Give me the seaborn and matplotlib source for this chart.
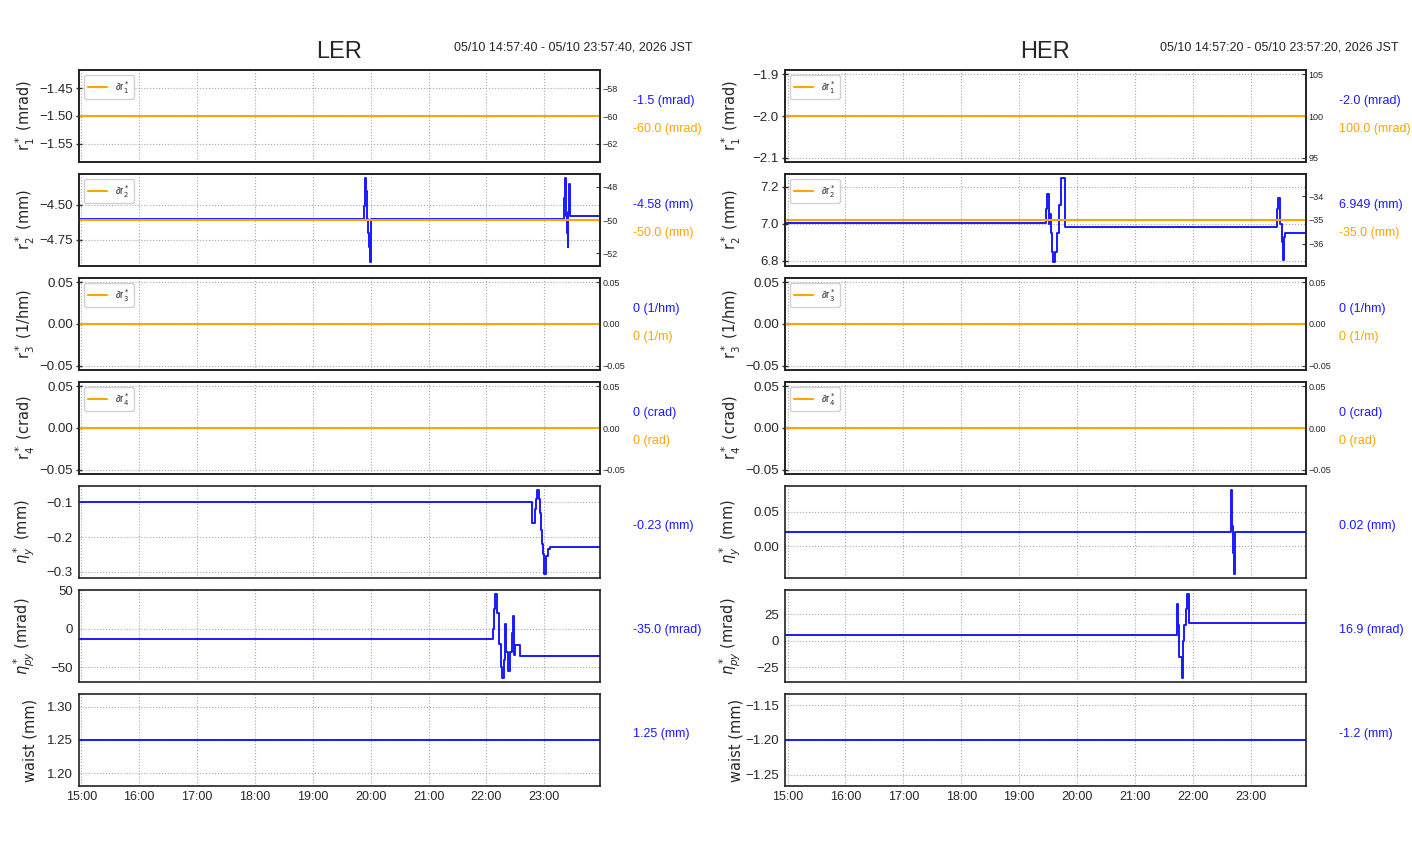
import pandas as pd
import matplotlib
matplotlib.use('Agg')
import matplotlib.pyplot as plt
import matplotlib.dates as mdates
from matplotlib.ticker import MaxNLocator
import seaborn as sns

DAY = '2026-05-10 '

# ---------------- LER ----------------
ler_span = ['14:57:40', '23:57:40']
ler_time_text = '05/10 14:57:40 - 05/10 23:57:40, 2026 JST'

ler_r1_t = ['14:57:40', '23:57:40']
ler_r1_v = [-1.5, -1.5]
ler_dr1_v = [-60.0, -60.0]

ler_r2_t = ['14:57:40', '19:53', '19:54', '19:55', '19:56', '19:57', '19:58', '19:59', '20:00',
            '23:20', '23:21', '23:22', '23:23', '23:24', '23:25', '23:26', '23:27', '23:57:40']
ler_r2_v = [-4.60, -4.51, -4.31, -4.40, -4.60, -4.70, -4.80, -4.906, -4.60,
            -4.45, -4.31, -4.58, -4.70, -4.80, -4.55, -4.35, -4.58, -4.58]
ler_dr2_v = [-50.0, -50.0]

ler_r3_v = [0.0, 0.0]
ler_dr3_v = [0.0, 0.0]
ler_r4_v = [0.0, 0.0]
ler_dr4_v = [0.0, 0.0]

ler_eta_t = ['14:57:40', '22:47', '22:50', '22:51', '22:52', '22:54', '22:55', '22:57', '22:58',
             '22:59', '23:00', '23:02', '23:04', '23:06', '23:57:40']
ler_eta_v = [-0.10, -0.16, -0.12, -0.09, -0.065, -0.09, -0.13, -0.18, -0.22,
             -0.25, -0.306, -0.255, -0.235, -0.23, -0.23]

ler_etap_t = ['14:57:40', '22:07', '22:08', '22:09', '22:11', '22:13', '22:15', '22:16', '22:18',
              '22:19', '22:20', '22:22', '22:24', '22:26', '22:27', '22:29', '22:30', '22:35', '23:57:40']
ler_etap_v = [-14, 0, 25, 44.6, 20, -20, -50, -63.6, -40,
              6, -30, -55, -30, -5, 16, -34, -21, -35, -35]

ler_waist_v = [1.25, 1.25]

ler_blue_labels = ['-1.5 (mrad)', '-4.58 (mm)', '0 (1/hm)', '0 (crad)', '-0.23 (mm)', '-35.0 (mrad)', '1.25 (mm)']
ler_orange_labels = ['-60.0 (mrad)', '-50.0 (mm)', '0 (1/m)', '0 (rad)']

# ---------------- HER ----------------
her_span = ['14:57:20', '23:57:20']
her_time_text = '05/10 14:57:20 - 05/10 23:57:20, 2026 JST'

her_r1_v = [-2.0, -2.0]
her_dr1_v = [100.0, 100.0]

her_r2_t = ['14:57:20', '19:28', '19:29', '19:31', '19:32', '19:33', '19:34', '19:35', '19:37',
            '19:39', '19:41', '19:43', '19:48', '23:27', '23:28', '23:30', '23:32', '23:33',
            '23:35', '23:36', '23:57:20']
her_r2_v = [7.005, 7.08, 7.16, 7.00, 7.05, 6.95, 6.85, 6.795, 6.85,
            6.95, 7.10, 7.245, 6.985, 7.08, 7.14, 7.00, 6.90, 6.806,
            6.93, 6.949, 6.949]
her_dr2_v = [-35.0, -35.0]

her_r3_v = [0.0, 0.0]
her_dr3_v = [0.0, 0.0]
her_r4_v = [0.0, 0.0]
her_dr4_v = [0.0, 0.0]

her_eta_t = ['14:57:20', '22:40', '22:41', '22:42', '22:43', '22:44', '23:57:20']
her_eta_v = [0.02, 0.081, 0.03, -0.01, -0.0397, 0.02, 0.02]

her_etap_t = ['14:57:20', '21:44', '21:45', '21:46', '21:49', '21:50', '21:51', '21:53', '21:54', '21:56', '23:57:20']
her_etap_v = [5, 35, 15, -15, -34.9, 0, 15, 30, 43.95, 16.9, 16.9]

her_waist_v = [-1.2, -1.2]

her_blue_labels = ['-2.0 (mrad)', '6.949 (mm)', '0 (1/hm)', '0 (crad)', '0.02 (mm)', '16.9 (mrad)', '-1.2 (mm)']
her_orange_labels = ['100.0 (mrad)', '-35.0 (mm)', '0 (1/m)', '0 (rad)']

# common
ylabels = ['r$^*_1$ (mrad)', 'r$^*_2$ (mm)', 'r$^*_3$ (1/hm)', 'r$^*_4$ (crad)',
           '$\\eta_y^*$ (mm)', '$\\eta_{py}^*$ (mrad)', 'waist (mm)']
legend_labels = ['∂r$^*_1$', '∂r$^*_2$', '∂r$^*_3$', '∂r$^*_4$']

BLUE = '#1a1aff'
ORANGE = 'orange'

sns.set_theme(style='white')
plt.rcParams['font.family'] = ['Liberation Sans', 'DejaVu Sans']
plt.rcParams['mathtext.fontset'] = 'dejavusans'


def to_time(ts):
    return pd.to_datetime([DAY + t for t in ts], format='mixed')


def trace(ax, ts, vs, color, lw=1.4):
    df = pd.DataFrame({'time': to_time(ts), 'value': vs})
    sns.lineplot(data=df, x='time', y='value', ax=ax, color=color, lw=lw,
                 drawstyle='steps-post', estimator=None, sort=False, legend=False)


W, H = 1412, 864
fig = plt.figure(figsize=(W / 100, H / 100), dpi=100)

sides = [
    dict(left=79, name='LER', span=ler_span, ttext=ler_time_text,
         blue=[(ler_r1_t, ler_r1_v), (ler_r2_t, ler_r2_v), (ler_span, ler_r3_v), (ler_span, ler_r4_v),
               (ler_eta_t, ler_eta_v), (ler_etap_t, ler_etap_v), (ler_span, ler_waist_v)],
         orange=[ler_dr1_v, ler_dr2_v, ler_dr3_v, ler_dr4_v],
         blabels=ler_blue_labels, olabels=ler_orange_labels),
    dict(left=785, name='HER', span=her_span, ttext=her_time_text,
         blue=[(her_span, her_r1_v), (her_r2_t, her_r2_v), (her_span, her_r3_v), (her_span, her_r4_v),
               (her_eta_t, her_eta_v), (her_etap_t, her_etap_v), (her_span, her_waist_v)],
         orange=[her_dr1_v, her_dr2_v, her_dr3_v, her_dr4_v],
         blabels=her_blue_labels, olabels=her_orange_labels),
]

for s in sides:
    left = s['left']
    x0, x1 = to_time(s['span'])
    for i in range(7):
        top = 70 + 104 * i
        ax = fig.add_axes([left / W, 1 - (top + 92) / H, 521 / W, 92 / H])
        ts, vs = s['blue'][i]
        trace(ax, ts, vs, BLUE)
        ax.set_xlim(x0, x1)
        ax.xaxis.set_major_locator(mdates.HourLocator())
        ax.xaxis.set_minor_locator(mdates.MinuteLocator(byminute=[20, 40]))
        ax.xaxis.set_major_formatter(mdates.DateFormatter('%H:%M'))
        ax.grid(True, which='major', ls=':', color='#a8a8a8', lw=0.8)
        ax.tick_params(axis='x', which='major', direction='in', length=7, width=1, labelsize=9, color='#333333')
        ax.tick_params(axis='x', which='minor', direction='in', length=3.5, width=0.8, color='#333333')
        ax.tick_params(axis='y', direction='inout', length=5, width=1, labelsize=9.5, pad=2, color='#333333')
        if i < 6:
            ax.tick_params(axis='x', labelbottom=False)
        ax.set_xlabel('')
        ax.set_ylabel(ylabels[i], family='DejaVu Sans', fontsize=10.5)
        ax.yaxis.set_label_coords(-0.08, 0.5)
        for sp in ax.spines.values():
            sp.set_color('#222222')
            sp.set_linewidth(1.2)

        # value read-outs to the right of each panel
        cy = top + 46
        if i < 4:
            ax2 = ax.twinx()
            trace(ax2, s['span'], s['orange'][i], ORANGE, lw=1.5)
            ax2.set_xlim(x0, x1)
            ax2.set_ylabel('')
            ax2.yaxis.set_major_locator(MaxNLocator(nbins=4, steps=[1, 2, 2.5, 5, 10]))
            ax2.tick_params(axis='y', direction='in', length=3, width=0.8, labelsize=6.5, pad=2, color='#333333')
            ax2.grid(False)
            for sp in ax2.spines.values():
                sp.set_color('#222222')
                sp.set_linewidth(1.2)
            ax2.legend([ax2.get_lines()[0]], [legend_labels[i]], loc='upper left', fontsize=7,
                       handlelength=2, frameon=True, framealpha=0.9, edgecolor='#cccccc')
            fig.text((left + 554) / W, 1 - (cy - 15) / H, s['blabels'][i], color=BLUE,
                     fontsize=9, va='center', ha='left')
            fig.text((left + 554) / W, 1 - (cy + 13) / H, s['olabels'][i], color=ORANGE,
                     fontsize=9, va='center', ha='left')
        else:
            fig.text((left + 554) / W, 1 - (cy - 6) / H, s['blabels'][i], color=BLUE,
                     fontsize=9, va='center', ha='left')

    fig.text((left + 260.5) / W, 1 - 52 / H, s['name'], fontsize=17, ha='center', va='center')
    fig.text((left + 614) / W, 1 - 47 / H, s['ttext'], fontsize=9, ha='right', va='center')

fig.savefig('out.png', dpi=100, facecolor='white')
